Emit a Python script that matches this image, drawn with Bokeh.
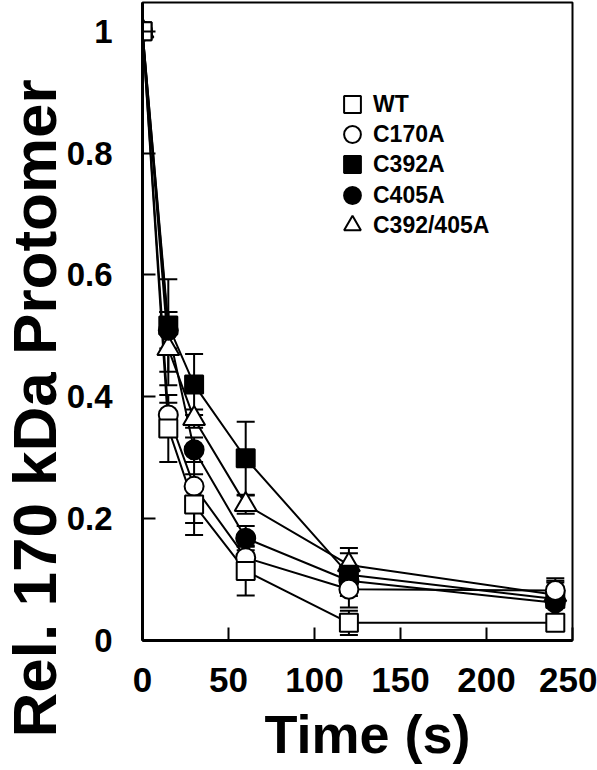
from bokeh.plotting import figure
from bokeh.models import (Range1d, FixedTicker, Whisker, TeeHead, ColumnDataSource,
                          Legend, LegendItem, Title)
from bokeh.embed import file_html
from bokeh.resources import INLINE

# ---- data ----
time_s = [0, 15, 30, 60, 120, 240]

wt = [1.0, 0.348, 0.223, 0.114, 0.029, 0.029]
wt_err = [0.0, 0.055, 0.05, 0.04, 0.02, 0.0]

c170a = [1.0, 0.37, 0.253, 0.136, 0.084, 0.082]
c170a_err = [0.0, 0.02, 0.06, 0.02, 0.03, 0.02]

c392a = [1.0, 0.517, 0.42, 0.299, 0.108, 0.068]
c392a_err = [0.0, 0.076, 0.05, 0.06, 0.035, 0.03]

c405a = [1.0, 0.509, 0.313, 0.168, 0.098, 0.062]
c405a_err = [0.0, 0.03, 0.02, 0.02, 0.02, 0.02]

c392_405a = [1.0, 0.479, 0.364, 0.223, 0.124, 0.075]
c392_405a_err = [0.0, 0.06, 0.015, 0.015, 0.028, 0.02]

x_ticks = [0, 50, 100, 150, 200, 250]
y_ticks = [0, 0.2, 0.4, 0.6, 0.8, 1.0]
y_tick_labels = ["0", "0.2", "0.4", "0.6", "0.8", "1"]

legend_order = ["WT", "C170A", "C392A", "C405A", "C392/405A"]

FONT = "Liberation Sans"

p = figure(width=597, height=770, output_backend="svg", toolbar_location=None,
           x_range=Range1d(0, 250), y_range=Range1d(0, 1.047), title=None,
           min_border_left=142, min_border_right=25, min_border_top=2,
           min_border_bottom=127)
p.xgrid.visible = False
p.ygrid.visible = False
p.outline_line_color = "black"
p.outline_line_width = 2
p.outline_line_alpha = 1.0
p.background_fill_color = "white"
p.border_fill_color = "white"

for ax in (p.xaxis[0], p.yaxis[0]):
    ax.axis_line_width = 3
    ax.axis_line_color = "black"
    ax.major_tick_in = 13
    ax.major_tick_out = 0
    ax.minor_tick_in = 0
    ax.minor_tick_out = 0
    ax.major_tick_line_width = 2
    ax.major_tick_line_color = "black"
    ax.major_label_text_font = FONT
    ax.major_label_text_font_style = "bold"
    ax.major_label_text_color = "black"

p.xaxis.ticker = FixedTicker(ticks=x_ticks)
p.xaxis.major_label_text_font_size = "35px"
p.xaxis.major_label_standoff = 27
p.yaxis.ticker = FixedTicker(ticks=y_ticks)
p.yaxis.major_label_overrides = {t: l for t, l in zip(y_ticks, y_tick_labels)}
p.yaxis.major_label_text_font_size = "33px"
p.yaxis.major_label_standoff = 30

series = [
    ("C392/405A", c392_405a, c392_405a_err, "triangle", "white", 22),
    ("C405A", c405a, c405a_err, "circle", "black", 19),
    ("C392A", c392a, c392a_err, "square", "black", 18),
    ("C170A", c170a, c170a_err, "circle", "white", 19),
    ("WT", wt, wt_err, "square", "white", 18),
]

sources = {}
for name, ys, errs, mk, fill, sz in series:
    src = ColumnDataSource(dict(
        x=time_s, y=ys,
        upper=[a + b for a, b in zip(ys, errs)],
        lower=[a - b for a, b in zip(ys, errs)]))
    sources[name] = src
    w = Whisker(source=src, base="x", upper="upper", lower="lower",
                line_width=2, line_color="black",
                upper_head=TeeHead(size=18, line_width=2, line_color="black"),
                lower_head=TeeHead(size=18, line_width=2, line_color="black"))
    p.add_layout(w)

for name, ys, errs, mk, fill, sz in series:
    p.line("x", "y", source=sources[name], line_width=2, line_color="black")

marker_r = {}
for name, ys, errs, mk, fill, sz in series:
    marker_r[name] = p.scatter("x", "y", source=sources[name], marker=mk, size=sz,
                               fill_color=fill, line_color="black", line_width=2)

# one small legend box per entry (screen offsets from the frame's bottom-left)
legend_row_bottoms = [515, 485, 455, 424, 394]
for n, vy in zip(legend_order, legend_row_bottoms):
    lg = Legend(items=[LegendItem(label=n, renderers=[marker_r[n]])],
                location=(189, vy), glyph_width=42, glyph_height=42, spacing=0,
                padding=0, margin=0, label_standoff=0, border_line_color=None,
                background_fill_alpha=0, label_text_font_size="23px",
                label_text_font=FONT, label_text_font_style="bold",
                label_text_color="black", label_height=20)
    p.add_layout(lg)

p.add_layout(Title(text="Time (s)", align="left", offset=122, standoff=14,
                   text_font=FONT, text_font_style="bold", text_font_size="54px",
                   text_color="black"), "below")
p.add_layout(Title(text="Rel. 170 kDa Protomer", align="left", offset=-97, standoff=-11,
                   text_font=FONT, text_font_style="bold", text_font_size="62px",
                   text_color="black"), "left")

open("out.html", "w").write(file_html(p, INLINE))
